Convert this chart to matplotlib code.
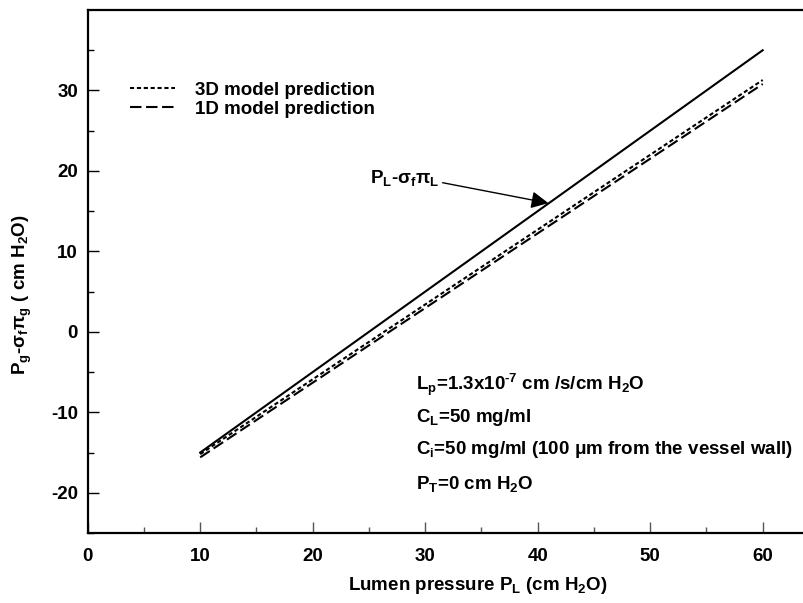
import numpy as np
import matplotlib
matplotlib.use("Agg")
import matplotlib.pyplot as plt

# lumen pressure (cm H2O) and the three curves
pressure = [10, 60]
p_lumen_eff = [-15.0, 35.0]      # P_L - sigma_f pi_L
model_3d = [-15.2, 31.3]         # 3D model prediction
model_1d = [-15.6, 30.8]         # 1D model prediction

x_ticks = [0, 10, 20, 30, 40, 50, 60]
y_ticks = [-20, -10, 0, 10, 20, 30]

notes = [r"L$_{\mathregular{p}}$=1.3x10$^{\text{-7}}$ cm /s/cm H$_{\mathregular{2}}$O",
         r"C$_{\mathregular{L}}$=50 mg/ml",
         r"C$_{\mathregular{i}}$=50 mg/ml (100 μm from the vessel wall)",
         r"P$_{\mathregular{T}}$=0 cm H$_{\mathregular{2}}$O"]
note_y = [-6.6, -10.6, -14.6, -18.9]

plt.rcParams["font.family"] = ["Liberation Sans", "DejaVu Sans"]
plt.rcParams["font.weight"] = "bold"
plt.rcParams["axes.unicode_minus"] = False
plt.rcParams["mathtext.fontset"] = "custom"
plt.rcParams["mathtext.rm"] = "Liberation Sans:bold"
plt.rcParams["mathtext.it"] = "Liberation Sans:bold"
plt.rcParams["mathtext.bf"] = "Liberation Sans:bold"
plt.rcParams["mathtext.default"] = "regular"

FS = 13.5

fig = plt.figure(figsize=(8.04, 6.03), dpi=100)
ax = fig.add_axes([87.7 / 804, 70 / 603, 720 / 804, 523 / 603])

ax.plot(pressure, p_lumen_eff, color="black", lw=1.5)
ax.plot(pressure, model_3d, color="black", lw=1.5, ls=(0, (2.0, 1.3)),
        label="3D model prediction")
ax.plot(pressure, model_1d, color="black", lw=1.5, ls=(0, (5.5, 2.2)),
        label="1D model prediction")

ax.set_xlim(0, 64)
ax.set_ylim(-25, 40)
ax.set_xticks(x_ticks)
ax.set_yticks(y_ticks)
ax.set_xticks(np.arange(5, 64, 10), minor=True)
ax.set_yticks(np.arange(-25, 41, 10), minor=True)
ax.tick_params(which="both", direction="in", labelsize=FS)
ax.tick_params(which="major", length=8, width=1)
ax.tick_params(which="minor", length=4, width=1)
ax.tick_params(axis="x", which="both", colors="#555555", labelcolor="black", pad=11)
ax.tick_params(axis="y", which="both", pad=7)
for lbl in ax.get_xticklabels() + ax.get_yticklabels():
    lbl.set_fontweight("bold")
for s in ax.spines.values():
    s.set_linewidth(1.6)
ax.spines["right"].set_visible(False)

leg = ax.legend(loc="upper left", bbox_to_anchor=(0.035, 0.895), frameon=False,
                fontsize=FS, handlelength=2.4, handletextpad=1.1, labelspacing=0.1)
for t in leg.get_texts():
    t.set_fontweight("bold")

ax.annotate(r"P$_{\mathregular{L}}$-σ$_{\mathregular{f}}$π$_{\mathregular{L}}$",
            xy=(40.95, 16.0), xytext=(31.3, 19.1), ha="right", va="center",
            fontsize=FS, fontweight="bold",
            arrowprops=dict(arrowstyle="-|>", color="black", lw=1,
                            mutation_scale=26, relpos=(1.0, 0.3),
                            shrinkA=0, shrinkB=0))

for txt, y in zip(notes, note_y):
    ax.text(29.2, y, txt, fontsize=FS, fontweight="bold", va="center")

fig.text(22 / 804, 1 - 295 / 603,
         r"P$_{\mathregular{g}}$-σ$_{\mathregular{f}}$π$_{\mathregular{g}}$ ( cm H$_{\mathregular{2}}$O)",
         rotation=90, ha="center", va="center", fontsize=FS, fontweight="bold")
fig.text(478 / 804, 1 - 585 / 603,
         r"Lumen pressure P$_{\mathregular{L}}$ (cm H$_{\mathregular{2}}$O)",
         ha="center", va="center", fontsize=FS, fontweight="bold")

fig.savefig("out.png", dpi=100)
